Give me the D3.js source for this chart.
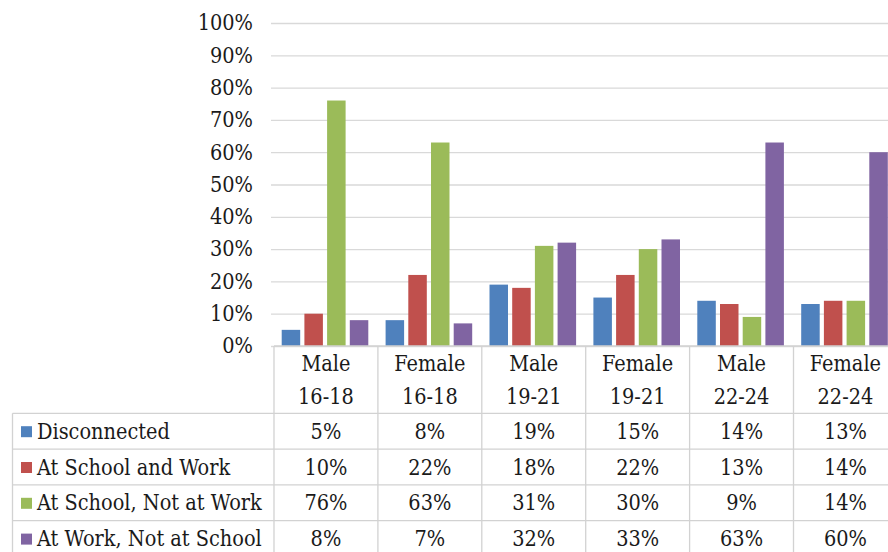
<!DOCTYPE html>
<html>
<head>
<meta charset="utf-8">
<script src="https://cdn.jsdelivr.net/npm/d3@7/dist/d3.min.js"></script>
<style>
  html, body { margin: 0; padding: 0; background: #fff; }
  svg { display: block; }
  svg text { fill: #1a1a1a; }
</style>
</head>
<body>
<svg id="chart" width="888" height="552"></svg>
<script>
// Youth status by gender and age group
const genders = ["Male", "Female", "Male", "Female", "Male", "Female"];
const ages = ["16-18", "16-18", "19-21", "19-21", "22-24", "22-24"];
const seriesNames = ["Disconnected", "At School and Work", "At School, Not at Work", "At Work, Not at School"];
const disconnected = [5, 8, 19, 15, 14, 13];
const schoolAndWork = [10, 22, 18, 22, 13, 14];
const schoolNotWork = [76, 63, 31, 30, 9, 14];
const workNotSchool = [8, 7, 32, 33, 63, 60];
const colors = ["#4f81bd", "#c0504d", "#9bbb59", "#8064a2"];
const yTicks = [0, 10, 20, 30, 40, 50, 60, 70, 80, 90, 100];

const seriesValues = [disconnected, schoolAndWork, schoolNotWork, workNotSchool];
const categories = genders.map((g, i) => i);

const svg = d3.select("#chart");
const serif = "'DejaVu Serif Condensed', 'DejaVu Serif', serif";
const plotLeft = 274, plotRight = 274 + 6 * 103.9;
const plotTop = 23, plotBottom = 346;
const tableLeft = 12.5;
const rowTop = 413.3, rowH = 35.8;
const gridColor = "#d9d9d9";
const borderColor = "#d2d2d2";
const fontSize = 21.5;

const x0 = d3.scaleBand().domain(categories).range([plotLeft, plotRight]).padding(0);
const x1 = d3.scaleBand().domain(d3.range(seriesNames.length))
  .range([7.7, 94.3]).paddingInner(0.185).paddingOuter(0);
const y = d3.scaleLinear().domain([0, 100]).range([plotBottom, plotTop]);

// Value axis with horizontal gridlines
const yAxis = d3.axisLeft(y)
  .tickValues(yTicks)
  .tickFormat(d => d + "%")
  .tickSizeInner(-(plotRight - 271))
  .tickSizeOuter(0)
  .tickPadding(18);
const gy = svg.append("g").attr("transform", "translate(271,0)").call(yAxis)
  .attr("font-family", serif).attr("font-size", fontSize);
gy.select(".domain").remove();
gy.selectAll(".tick line").attr("stroke", gridColor).attr("stroke-width", 1.3);
gy.selectAll(".tick text").attr("fill", "#1a1a1a");

// Bars
const groups = svg.append("g").selectAll("g")
  .data(categories).join("g")
  .attr("transform", c => `translate(${x0(c)},0)`);
groups.selectAll("rect")
  .data(c => seriesValues.map((vals, s) => ({ s, v: vals[c] })))
  .join("rect")
  .attr("x", d => x1(d.s))
  .attr("width", x1.bandwidth())
  .attr("y", d => y(d.v))
  .attr("height", d => y(0) - y(d.v))
  .attr("fill", d => colors[d.s]);

// Data table below the plot
const tableBottom = rowTop + seriesNames.length * rowH + 2;
const lines = svg.append("g").attr("stroke", borderColor).attr("stroke-width", 1.3);
// category column separators
lines.selectAll("line.v").data(d3.range(categories.length + 1)).join("line")
  .attr("class", "v")
  .attr("x1", i => plotLeft + i * x0.step()).attr("x2", i => plotLeft + i * x0.step())
  .attr("y1", plotBottom).attr("y2", tableBottom);
lines.append("line")
  .attr("x1", tableLeft).attr("x2", tableLeft)
  .attr("y1", rowTop).attr("y2", tableBottom);
lines.append("line")
  .attr("x1", plotLeft).attr("x2", plotRight)
  .attr("y1", plotBottom).attr("y2", plotBottom);
lines.selectAll("line.h").data(d3.range(seriesNames.length)).join("line")
  .attr("class", "h")
  .attr("x1", tableLeft).attr("x2", plotRight)
  .attr("y1", i => rowTop + i * rowH).attr("y2", i => rowTop + i * rowH);

// Column headers
const header = svg.append("g").attr("text-anchor", "middle")
  .attr("font-family", serif).attr("font-size", fontSize);
header.selectAll("text.g").data(categories).join("text")
  .attr("class", "g")
  .attr("x", c => x0(c) + x0.bandwidth() / 2)
  .attr("y", 363).attr("dy", "0.35em")
  .text(c => genders[c]);
header.selectAll("text.a").data(categories).join("text")
  .attr("class", "a")
  .attr("x", c => x0(c) + x0.bandwidth() / 2)
  .attr("y", 396).attr("dy", "0.35em")
  .text(c => ages[c]);

// Row labels with legend keys
const rows = svg.append("g").attr("font-family", serif).attr("font-size", fontSize)
  .selectAll("g")
  .data(seriesNames).join("g")
  .attr("transform", (d, i) => `translate(0,${rowTop + i * rowH + rowH / 2})`);
rows.append("rect")
  .attr("x", 21).attr("y", -5).attr("width", 11).attr("height", 11)
  .attr("fill", (d, i) => colors[i]);
rows.append("text")
  .attr("x", 37).attr("dy", "0.35em")
  .text(d => d);
rows.selectAll("text.v")
  .data((d, i) => seriesValues[i].map((v, c) => ({ v, c })))
  .join("text")
  .attr("class", "v")
  .attr("text-anchor", "middle")
  .attr("x", d => x0(d.c) + x0.bandwidth() / 2)
  .attr("dy", "0.35em")
  .text(d => d.v + "%");
</script>
</body>
</html>
